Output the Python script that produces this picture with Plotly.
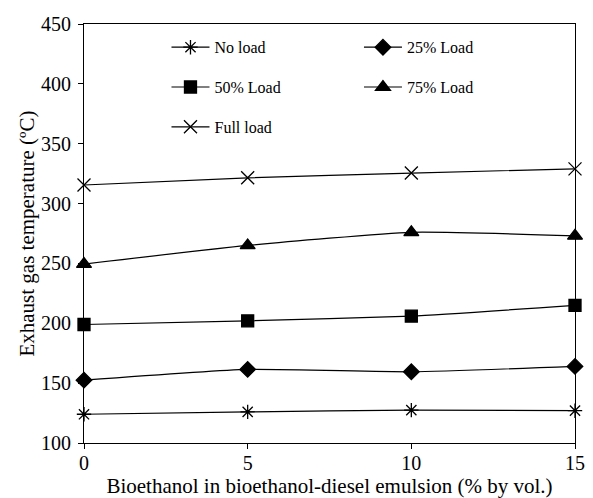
import plotly.graph_objects as go

# Bioethanol content in the emulsion (% by vol.)
ethanol_pct = [0, 5, 10, 15]

# Exhaust gas temperature (°C) for each engine load
no_load = [124, 126, 127.5, 127]
load_25 = [152.5, 161.5, 159.5, 164]
load_50 = [199, 202, 206, 215]
load_75 = [249.5, 265, 276, 273]
full_load = [315.5, 321.5, 325.5, 329]

series = [
    ("No load", no_load, "asterisk-open", 12, "legend"),
    ("25% Load", load_25, "diamond", 12, "legend2"),
    ("50% Load", load_50, "square", 12, "legend"),
    ("75% Load", load_75, "triangle-up", 13, "legend2"),
    ("Full load", full_load, "x-thin-open", 13, "legend"),
]

font_family = "Liberation Serif"

fig = go.Figure()
for i, (name, vals, sym, size, leg) in enumerate(series):
    fig.add_trace(go.Scatter(
        x=ethanol_pct, y=vals, name=name, mode="lines+markers",
        line=dict(color="black", width=1.2, shape="spline", smoothing=0.5),
        marker=dict(symbol=sym, size=size, color="black",
                    line=dict(color="black", width=1.3)),
        legend=leg, legendgroup=name, cliponaxis=False,
    ))

legend_style = dict(
    bgcolor="rgba(0,0,0,0)", borderwidth=0,
    font=dict(family=font_family, size=16, color="black"),
    tracegroupgap=16, itemwidth=38,
    xanchor="left", yanchor="top", y=0.985,
)

fig.update_layout(
    width=593, height=498,
    margin=dict(l=84, r=18, t=24, b=55),
    paper_bgcolor="white", plot_bgcolor="white",
    font=dict(family=font_family, size=20, color="black"),
    legend=dict(x=0.168, **legend_style),
    legend2=dict(x=0.56, **legend_style),
    xaxis=dict(
        range=[0, 15], tickvals=[0, 5, 10, 15],
        showgrid=False, zeroline=False, automargin=False,
        showline=True, linecolor="black", linewidth=1, mirror=True,
        ticks="outside", ticklen=5, tickcolor="black",
        tickfont=dict(size=20), ticklabelstandoff=-3,
        title=dict(text="Bioethanol in bioethanol-diesel emulsion (% by vol.)",
                   font=dict(size=21), standoff=3),
    ),
    yaxis=dict(
        range=[100, 450], tickvals=[100, 150, 200, 250, 300, 350, 400, 450],
        showgrid=False, zeroline=False, automargin=False,
        showline=True, linecolor="black", linewidth=1, mirror=True,
        ticks="outside", ticklen=5, tickcolor="black",
        tickfont=dict(size=20), ticklabelstandoff=3,
        title=dict(text="Exhaust gas temperature (ºC)",
                   font=dict(size=21), standoff=0),
    ),
)

fig.write_html("out.html")
